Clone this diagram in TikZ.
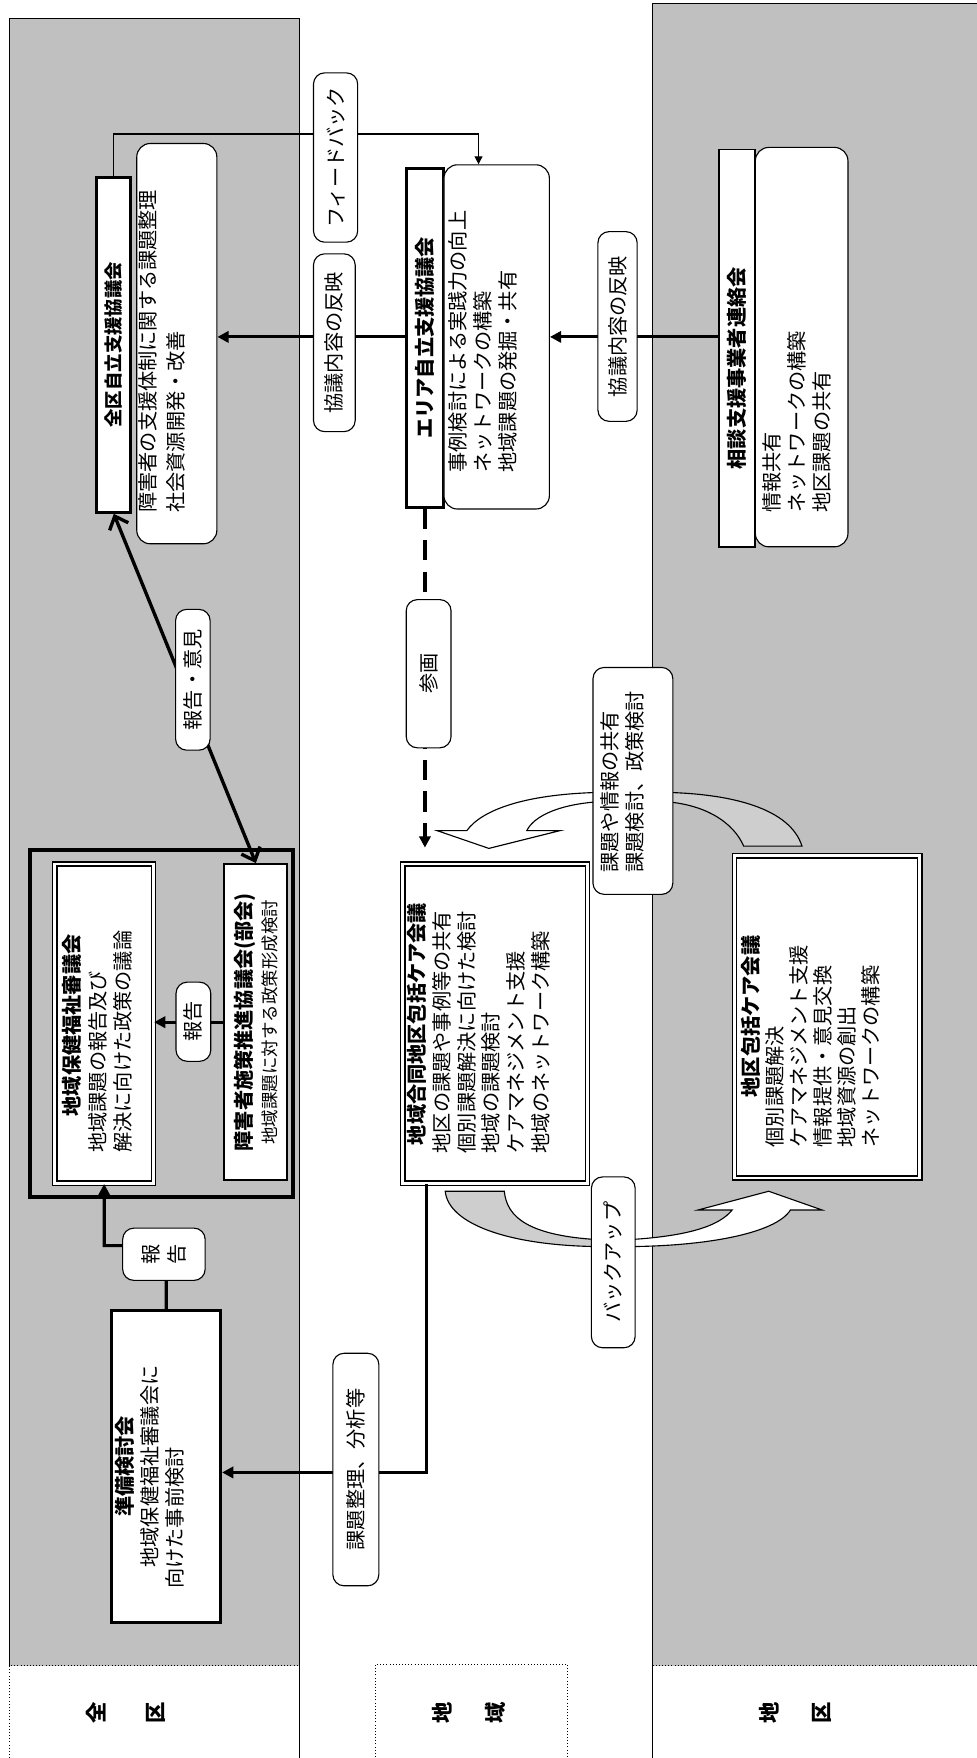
\documentclass[tikz,border=0pt]{standalone}
\usepackage{fontspec}
\setmainfont{Noto Sans CJK JP}
\usetikzlibrary{arrows.meta}
\definecolor{bandgray}{RGB}{192,192,192}
\definecolor{curlgray}{RGB}{206,206,206}

\begin{document}
\begin{tikzpicture}[x=0.5pt, y=-0.5pt, every node/.style={font=\fontsize{9}{11}\selectfont},
  titlebox/.style={draw, line width=1.3pt, fill=white, rotate=90, inner sep=0pt, font=\fontsize{9}{11}\selectfont\bfseries},
  notebox/.style={draw, line width=0.5pt, rounded corners=6pt, fill=white, rotate=90, inner sep=0pt},
  dblbox/.style={draw, line width=0.6pt, double, double distance=1.3pt, fill=white, rotate=90, inner sep=0pt},
  tag/.style={draw, line width=0.5pt, rounded corners=5pt, fill=white, rotate=90, inner sep=0pt, align=center},
  note/.style={rotate=90, inner sep=0pt, anchor=north west, align=left},
  lane/.style={rotate=90, align=center},
  flow/.style={line width=1.4pt, -{Triangle[length=5pt,width=5pt]}}]
\useasboundingbox (0,0) rectangle (871,1568);

% lanes
\fill[bandgray] (8.3,16.4) rectangle (266.8,1485.6);
\fill[bandgray] (582,3.4) rectangle (880,1485.6);
\draw[line width=0.4pt] (8.3,1485.6) -- (8.3,16.4) -- (266.8,16.4) -- (266.8,1568);
\draw[line width=0.4pt] (880,3.4) -- (582,3.4) -- (582,1568);
\draw[densely dotted, line width=0.4pt] (8.3,1568) -- (8.3,1485.6) -- (266.8,1485.6);
\draw[densely dotted, line width=0.4pt] (582,1485.6) -- (880,1485.6);
\draw[densely dotted, line width=0.4pt] (334.9,1567) -- (334.9,1484.3) -- (506.4,1484.3) -- (506.4,1567);
\node[lane, font=\fontsize{9.5}{26.4}\selectfont\bfseries] (zenkuLane) at (112.4,1527.5) {全\\区};
\node[lane, font=\fontsize{9.5}{23.6}\selectfont\bfseries] (chiikiLane) at (417.9,1527.5) {地\\域};
\node[lane, font=\fontsize{9.5}{23.6}\selectfont\bfseries] (chikuLane) at (709.4,1527.5) {地\\区};

% top row
\node[titlebox, font=\fontsize{8.2}{10}\selectfont\bfseries, minimum width=149.5pt, minimum height=15.2pt] (zenkuTitle) at (101.5,307.5) {全区自立支援協議会};
\node[notebox, minimum width=178.5pt, minimum height=35.7pt] (zenkuNote) at (157.7,306.5) {};
\node[note, font=\fontsize{9}{12.3}\selectfont] (zenkuText) at (123.4,457.7) {障害者の支援体制に関する課題整理\\社会資源開発・改善};

\node[titlebox, minimum width=151.3pt, minimum height=16.7pt] (areaTitle) at (379,301.3) {エリア自立支援協議会};
\node[notebox, minimum width=153.5pt, minimum height=47pt] (areaNote) at (443,300.5) {};
\node[note, font=\fontsize{9}{11.2}\selectfont] (areaText) at (399.5,421.8) {事例検討による実践力の向上\\ネットワークの構築\\地域課題の発掘・共有};

\node[titlebox, line width=0.6pt, minimum width=177.3pt, minimum height=16pt] (soudanTitle) at (657.3,310.5) {相談支援事業者連絡会\hspace*{18pt}};
\node[notebox, minimum width=178.1pt, minimum height=41.3pt] (soudanNote) at (715,309.6) {};
\node[note, font=\fontsize{9}{11.15}\selectfont] (soudanText) at (679.6,457.7) {情報共有\\ネットワークの構築\\地区課題の共有};

% middle row
\node[draw, line width=1.6pt, minimum width=117.2pt, minimum height=154.8pt] (council) at (144,912.7) {};
\node[dblbox, minimum width=142.4pt, minimum height=43.9pt] (hokenBox) at (92.9,913) {};
\node[note, font=\fontsize{9}{11.5}\selectfont] (hokenText) at (55,1028.5) {\makebox[113.5pt][c]{\bfseries 地域保健福祉審議会}\\地域課題の報告及び\\解決に向けた政策の議論};
\node[draw, line width=0.9pt, fill=white, rotate=90, inner sep=0pt, align=center, font=\fontsize{9}{11.2}\selectfont,
  minimum width=141pt, minimum height=28.2pt] (shisakuBox) at (228.2,911.7) {{\bfseries 障害者施策推進協議会(部会)}\\{\fontsize{7.8}{9}\selectfont 地域課題に対する政策形成検討}};

\node[dblbox, minimum width=142.4pt, minimum height=82.4pt] (godoBox) at (441.7,913) {};
\node[note, font=\fontsize{9}{11}\selectfont] (godoText) at (363,1029) {\hspace*{3.6pt}{\bfseries 地域合同地区包括ケア会議}\\地区の課題や事例等の共有\\個別課題解決に向けた検討\\地域の課題検討\\ケアマネジメント支援\\地域のネットワーク構築};

\node[dblbox, minimum width=143.7pt, minimum height=82.7pt] (chikuBox) at (737.8,907) {};
\node[note, font=\fontsize{9}{10.7}\selectfont] (chikuText) at (660.3,1023.7) {\makebox[116.7pt][c]{\bfseries 地区包括ケア会議}\\個別課題解決\\ケアマネジメント支援\\情報提供・意見交換\\地域資源の創出\\ネットワークの構築};

% bottom row
\node[titlebox, line width=1.2pt, minimum width=139pt, minimum height=48.6pt] (junbiBox) at (148.3,1308) {};
\node[note, font=\fontsize{9}{11.1}\selectfont] (junbiText) at (102.5,1417.4) {\makebox[109pt][c]{\bfseries 準備検討会}\\\makebox[109pt][c]{地域保健福祉審議会に}\\向けた事前検討};

% connectors
\coordinate (rowMid) at (0,300.5);
\coordinate (fbTurn) at (426.8,119.5);
\coordinate (lowTurn) at (93,1111);
\coordinate (godoDrop) at (380.7,1313.3);
\draw[flow] (soudanTitle.north |- rowMid) -- (areaNote.south |- rowMid);
\draw[flow] (areaTitle.north |- rowMid) -- (zenkuNote.south |- rowMid);
\draw[line width=0.5pt, -{Triangle[length=3.5pt,width=3.5pt]}] (zenkuTitle.east) |- (fbTurn) -- (fbTurn |- areaNote.east);
\draw[line width=1.5pt, dash pattern=on 9pt off 5pt, -{Triangle[length=5pt,width=5pt]}, shorten >=7pt] (areaTitle.west) -- (areaTitle.west |- godoBox.east);
\draw[line width=1.5pt, {Straight Barb[length=5pt,width=9pt]}-{Straight Barb[length=5pt,width=9pt]}] (zenkuTitle.west) -- (shisakuBox.east);
\draw[flow] (shisakuBox.north) -- (shisakuBox.north -| hokenBox.south);
\draw[flow] (junbiBox.east) |- (lowTurn) -- (hokenBox.west);
\draw[flow] (godoBox.west -| godoDrop) -- (godoDrop) -- (godoDrop -| junbiBox.south);

% curved block arrows
\filldraw[fill=white, line width=0.5pt] (545,706.6) .. controls (470,707) and (430,722) .. (416.4,740.8) -- (389.7,740.8) -- (436,756.7) -- (499.7,740.8) -- (469.9,740.8) .. controls (476,728) and (500,715.5) .. (545,714.6) -- cycle;
\filldraw[fill=curlgray, line width=0.5pt] (585,706.6) .. controls (655,707) and (705,722) .. (715.3,754.7) -- (663.3,754.7) .. controls (655,735) and (630,715.5) .. (585,714.6) -- cycle;
\filldraw[fill=curlgray, line width=0.5pt] (397.1,1062.5) .. controls (400,1092) and (455,1111.9) .. (540,1111.9) -- (540,1106) .. controls (470,1103) and (452,1085) .. (449.8,1062.5) -- cycle;
\filldraw[fill=white, line width=0.5pt] (555,1106) .. controls (615,1103) and (642,1093) .. (653,1079.2) -- (622.6,1079.2) -- (685.6,1062.5) -- (733.2,1079.2) -- (705,1079.2) .. controls (692,1100) and (630,1111.9) .. (555,1111.9) -- cycle;

% tags
\node[tag, minimum width=75.5pt, minimum height=19.7pt] (feedTag) at (299.3,140.5) {フィードバック};
\node[tag, minimum width=79.3pt, minimum height=18.6pt] (leftTag) at (298.2,305.7) {協議内容の反映};
\node[tag, minimum width=84.6pt, minimum height=17.5pt] (rightTag) at (550.8,291.2) {協議内容の反映};
\node[tag, minimum width=66.1pt, minimum height=20pt] (sankakuTag) at (382.3,600.9) {参画};
\node[tag, minimum width=62.8pt, minimum height=15.4pt] (opinionTag) at (172,606.3) {報告・意見};
\node[tag, minimum width=35.3pt, minimum height=15.5pt] (reportTag) at (172.5,911.3) {報告};
\node[tag, minimum width=23.3pt, minimum height=36.8pt, font=\fontsize{9}{11.2}\selectfont] (reportLowTag) at (146.2,1118.7) {報\\告};
\node[tag, minimum width=103.7pt, minimum height=20.5pt] (kadaiTag) at (317.4,1310.7) {課題整理、分析等};
\node[tag, minimum width=76.2pt, minimum height=19.5pt] (backupTag) at (547,1125.9) {バックアップ};
\node[tag, minimum width=101.2pt, minimum height=35.6pt] (shareTag) at (564.5,696.5) {};
\node[note, font=\fontsize{9}{11.15}\selectfont] (shareText) at (535.3,778.6) {課題や情報の共有\\課題検討、政策検討};
\end{tikzpicture}
\end{document}
